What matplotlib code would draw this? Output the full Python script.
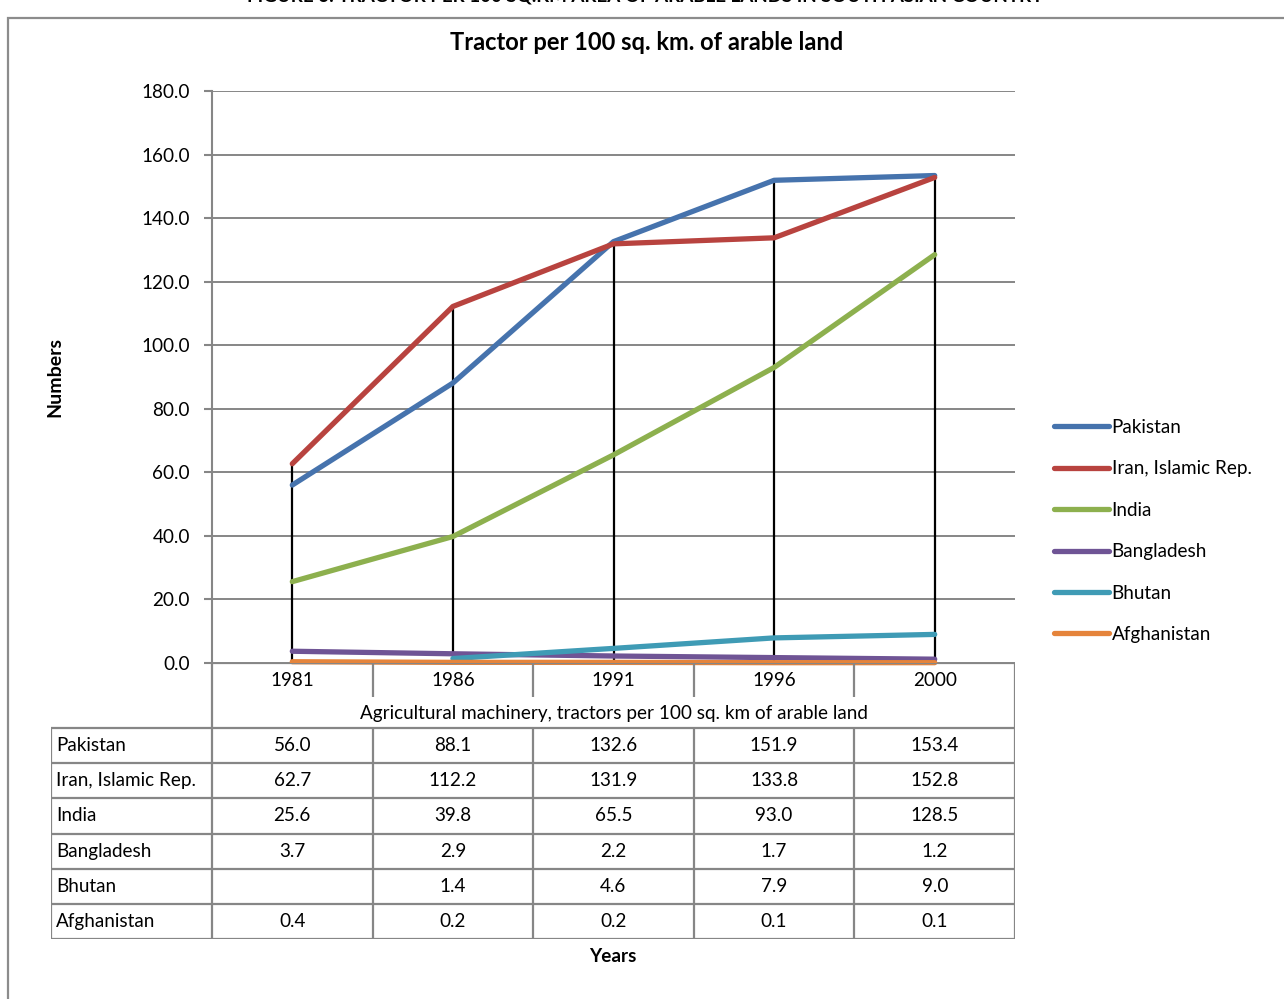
import numpy as np
import matplotlib
matplotlib.use("Agg")
import matplotlib.pyplot as plt
from matplotlib.patches import Rectangle

plt.rcParams['font.family'] = ['Lato', 'DejaVu Sans']

# ---- data ----
years = ["1981", "1986", "1991", "1996", "2000"]
countries = ["Pakistan", "Iran, Islamic Rep.", "India", "Bangladesh", "Bhutan", "Afghanistan"]
pakistan = [56.0, 88.1, 132.6, 151.9, 153.4]
iran = [62.7, 112.2, 131.9, 133.8, 152.8]
india = [25.6, 39.8, 65.5, 93.0, 128.5]
bangladesh = [3.7, 2.9, 2.2, 1.7, 1.2]
bhutan = [None, 1.4, 4.6, 7.9, 9.0]
afghanistan = [0.4, 0.2, 0.2, 0.1, 0.1]
series = [pakistan, iran, india, bangladesh, bhutan, afghanistan]
colors = ["#4673AD", "#B8433F", "#8DB04E", "#6F5495", "#3F9BB5", "#E5843B"]
yticks = [0, 20, 40, 60, 80, 100, 120, 140, 160, 180]

W, H = 1284, 999
fig = plt.figure(figsize=(W / 100, H / 100), dpi=100)

def fx(px):
    return px / W

def fy(py):
    return 1 - py / H

GRID = "#868686"
FS = 13.6

# outer chart frame
fig.patches.append(Rectangle((fx(8), fy(1010)), fx(1300) - fx(8), fy(18) - fy(1010),
                             transform=fig.transFigure, fill=False,
                             edgecolor="#8c8c8c", linewidth=1.6, zorder=0))
# caption above the frame
fig.text(fx(645), fy(-4), "FIGURE 6: TRACTOR PER 100 SQ.KM AREA OF ARABLE LANDS IN SOUTH ASIAN COUNTRY",
         ha="center", va="center", fontsize=13.5, fontweight="bold", color="black")

# ---- main plot ----
left, right, top, bottom = 212, 1015, 91, 663
ax = fig.add_axes([fx(left), fy(bottom), fx(right) - fx(left), fy(top) - fy(bottom)])
ax.set_xlim(0, len(years))
ax.set_ylim(0, 180)
xs = np.arange(len(years)) + 0.5

for s in ("top", "right", "bottom"):
    ax.spines[s].set_visible(False)
ax.spines["left"].set_color(GRID)
ax.spines["left"].set_linewidth(1.5)
ax.set_yticks(yticks)
ax.set_yticklabels([f"{v:.1f}" for v in yticks], fontsize=FS)
ax.tick_params(axis="y", length=6, width=1.5, color=GRID, pad=10)
ax.set_xticks([])
for yv in yticks:
    ax.axhline(yv, color=GRID, linewidth=1.4, zorder=0.5)

arr = np.array([[np.nan if v is None else v for v in s] for s in series], dtype=float)

# high-low lines
hi = np.nanmax(arr, axis=0)
lo = np.nanmin(arr, axis=0)
ax.vlines(xs, lo, hi, color="black", linewidth=1.6, zorder=2)

for name, vals, c in zip(countries, arr, colors):
    ax.plot(xs, vals, color=c, linewidth=3.8, solid_capstyle="round",
            solid_joinstyle="round", label=name, zorder=3, clip_on=False)

fig.legend(loc="center left", bbox_to_anchor=(fx(1054), fy(531)), frameon=False,
           fontsize=FS, handlelength=2.9, handletextpad=0.15, labelspacing=1.29,
           borderaxespad=0, borderpad=0)

fig.text(fx(55), fy(377), "Numbers", rotation=90, ha="center", va="center",
         fontsize=14, fontweight="bold")

fig.text(fx(647), fy(43), "Tractor per 100 sq. km. of arable land",
         ha="center", va="center", fontsize=17, fontweight="bold")

# ---- data table beneath the axis ----
cw = (right - left) / len(years)
tleft = left - cw
tbot = 939
tab = fig.add_axes([fx(tleft), fy(tbot), fx(right) - fx(tleft), fy(bottom) - fy(tbot)])
tab.set_xlim(-1, len(years))
tab.set_ylim(tbot - bottom, 0)
tab.axis("off")

row_tick = 34
row_head = 65
rh = (tbot - bottom - row_head) / len(countries)
lw_t = 1.6
# year labels with their dividers
for i, yr in enumerate(years):
    tab.text(i + 0.5, row_tick / 2, yr, ha="center", va="center", fontsize=FS)
tab.vlines(range(1, len(years)), 0, row_tick, color=GRID, linewidth=lw_t)
tab.vlines([0, len(years)], 0, row_head, color=GRID, linewidth=lw_t)
tab.hlines(0, 0, len(years), color=GRID, linewidth=lw_t, zorder=0.5)
tab.text(len(years) / 2, (row_tick + row_head) / 2 + 1,
         "Agricultural machinery, tractors per 100 sq. km of arable land",
         ha="center", va="center", fontsize=FS)
# grid of the table body
for r in range(len(countries) + 1):
    tab.hlines(row_head + r * rh, -1, len(years), color=GRID, linewidth=lw_t)
tab.vlines(range(-1, len(years) + 1), row_head, tbot - bottom, color=GRID, linewidth=lw_t)
for r, (name, vals) in enumerate(zip(countries, series)):
    yc = row_head + (r + 0.5) * rh
    tab.text(-1 + 0.03, yc, name, ha="left", va="center", fontsize=FS)
    for i, v in enumerate(vals):
        if v is not None:
            tab.text(i + 0.5, yc, f"{v:.1f}", ha="center", va="center", fontsize=FS)

fig.text(fx(613), fy(956), "Years", ha="center", va="center", fontsize=FS, fontweight="bold")

fig.savefig("out.png", dpi=100)
